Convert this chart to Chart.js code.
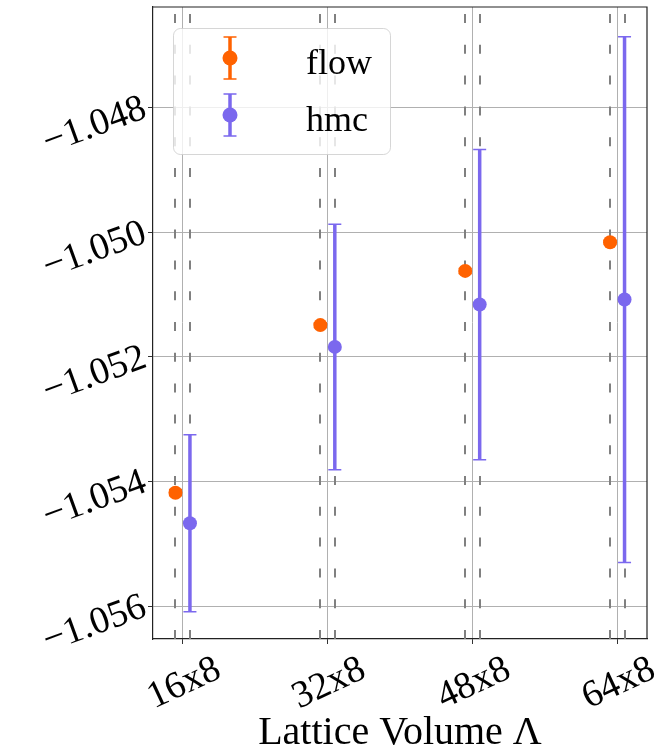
<!DOCTYPE html>
<html>
<head>
<meta charset="utf-8">
<script src="https://cdn.jsdelivr.net/npm/chart.js@4.4.1/dist/chart.umd.min.js"></script>
<style>
  html, body { margin: 0; padding: 0; background: #fff; }
  #wrap { width: 664px; height: 748px; }
</style>
</head>
<body>
<div id="wrap"><canvas id="chart" width="664" height="748"></canvas></div>
<script>
const volumes = ["16x8", "32x8", "48x8", "64x8"];
const flowMean = [-1.05418, -1.05149, -1.05062, -1.05016];
const flowErr = [0.00005, 0.00004, 0.00004, 0.00003];
const hmcMean = [-1.05467, -1.05184, -1.05116, -1.05108];
const hmcErr = [0.00142, 0.00197, 0.00249, 0.00422];
const yTicks = [-1.056, -1.054, -1.052, -1.050, -1.048];
const seriesNames = ["flow", "hmc"];
const seriesColors = ["#ff6200", "#7b68ee"];
const shift = 0.05; // flow drawn a bit left of the tick, hmc a bit right

const serif = "'Liberation Serif', 'DejaVu Serif', serif";

function points(means, dx) {
	return means.map((y, i) => ({ x: i + dx, y: y }));
}

// dashed guide lines and error bars, under the markers
const errorBars = {
	id: "errorBars",
	beforeDatasetsDraw(chart) {
		const ctx = chart.ctx;
		const area = chart.chartArea;
		const xs = chart.scales.x;
		const ys = chart.scales.y;
		ctx.save();
		ctx.beginPath();
		ctx.rect(area.left, area.top, area.right - area.left, area.bottom - area.top);
		ctx.clip();
		chart.data.datasets.forEach((ds) => {
			ds.data.forEach((p) => {
				const px = Math.round(xs.getPixelForValue(p.x));
				ctx.strokeStyle = "#808080";
				ctx.lineWidth = 2;
				ctx.setLineDash([9, 21.8]);
				ctx.beginPath();
				ctx.moveTo(px, area.bottom);
				ctx.lineTo(px, area.top);
				ctx.stroke();
			});
		});
		ctx.setLineDash([]);
		chart.data.datasets.forEach((ds) => {
			ds.data.forEach((p, i) => {
				const px = xs.getPixelForValue(p.x);
				const top = ys.getPixelForValue(p.y + ds.err[i]);
				const bot = ys.getPixelForValue(p.y - ds.err[i]);
				ctx.strokeStyle = ds.backgroundColor;
				ctx.lineWidth = 3.5;
				ctx.beginPath();
				ctx.moveTo(px, top);
				ctx.lineTo(px, bot);
				ctx.stroke();
				ctx.lineWidth = 1.5;
				ctx.beginPath();
				ctx.moveTo(px - 6.5, top);
				ctx.lineTo(px + 6.5, top);
				ctx.moveTo(px - 6.5, bot);
				ctx.lineTo(px + 6.5, bot);
				ctx.stroke();
			});
		});
		ctx.restore();
	},
	afterDraw(chart) {
		const ctx = chart.ctx;
		const area = chart.chartArea;
		ctx.save();
		// top and right spines
		ctx.strokeStyle = "#222";
		ctx.lineWidth = 1.2;
		ctx.beginPath();
		ctx.moveTo(area.left, area.top);
		ctx.lineTo(area.right, area.top);
		ctx.lineTo(area.right, area.bottom);
		ctx.stroke();

		// legend box
		ctx.beginPath();
		ctx.roundRect(173.5, 28.5, 217, 126, 7);
		ctx.fillStyle = "rgba(255,255,255,0.8)";
		ctx.fill();
		ctx.strokeStyle = "rgba(204,204,204,0.8)";
		ctx.lineWidth = 1;
		ctx.stroke();

		seriesNames.forEach((name, k) => {
			const cx = 230;
			const cy = 58 + k * 57;
			ctx.strokeStyle = seriesColors[k];
			ctx.lineWidth = 3.5;
			ctx.beginPath();
			ctx.moveTo(cx, cy - 21);
			ctx.lineTo(cx, cy + 21);
			ctx.stroke();
			ctx.lineWidth = 1.5;
			ctx.beginPath();
			ctx.moveTo(cx - 6.5, cy - 21);
			ctx.lineTo(cx + 6.5, cy - 21);
			ctx.moveTo(cx - 6.5, cy + 21);
			ctx.lineTo(cx + 6.5, cy + 21);
			ctx.stroke();
			ctx.fillStyle = seriesColors[k];
			ctx.beginPath();
			ctx.arc(cx, cy, 7.5, 0, Math.PI * 2);
			ctx.fill();
			ctx.fillStyle = "#000";
			ctx.font = "36px " + serif;
			ctx.textBaseline = "alphabetic";
			ctx.textAlign = "left";
			ctx.fillText(name, 306, cy + 16);
		});
		ctx.restore();
	},
};

const chart = new Chart(document.getElementById("chart").getContext("2d"), {
	type: "scatter",
	data: {
		datasets: [
			{
				label: seriesNames[0],
				data: points(flowMean, -shift),
				err: flowErr,
				backgroundColor: seriesColors[0],
				pointRadius: 7,
				pointBorderWidth: 0,
			},
			{
				label: seriesNames[1],
				data: points(hmcMean, shift),
				err: hmcErr,
				backgroundColor: seriesColors[1],
				pointRadius: 7,
				pointBorderWidth: 0,
			},
		],
	},
	options: {
		responsive: false,
		animation: false,
		layout: { padding: { top: 7, right: 17, left: 0, bottom: 0 } },
		plugins: { legend: { display: false }, tooltip: { enabled: false } },
		scales: {
			x: {
				type: "linear",
				min: -0.205,
				max: 3.205,
				afterBuildTicks: (s) => {
					s.ticks = volumes.map((v, i) => ({ value: i }));
				},
				afterFit: (s) => {
					s.height = 109;
					s.paddingLeft = 0;
					s.paddingRight = 0;
				},
				ticks: {
					callback: (v) => volumes[v],
					font: { family: serif, size: 38 },
					color: "#000",
					minRotation: 25,
					maxRotation: 25,
					labelOffset: 36,
					padding: 3,
					autoSkip: false,
				},
				grid: { color: "#b0b0b0", lineWidth: 1, tickLength: 5, tickColor: "#333" },
				border: { color: "#222", width: 1.2 },
				title: {
					display: true,
					text: "Lattice Volume Λ",
					font: { family: serif, size: 40, lineHeight: 0.75 },
					color: "#000",
					padding: 0,
				},
			},
			y: {
				min: -1.056528,
				max: -1.046384,
				afterBuildTicks: (s) => {
					s.ticks = yTicks.map((v) => ({ value: v }));
				},
				afterFit: (s) => {
					s.width = 153;
					s.paddingTop = 0;
					s.paddingBottom = 0;
				},
				ticks: {
					callback: (v) => "\u2212" + Math.abs(v).toFixed(3),
					font: { family: serif, size: 38 },
					color: "#000",
					minRotation: 20,
					maxRotation: 20,
					padding: 3,
				},
				grid: { color: "#b0b0b0", lineWidth: 1, tickLength: 5, tickColor: "#333" },
				border: { color: "#222", width: 1.2 },
			},
		},
	},
	plugins: [errorBars],
});
</script>
</body>
</html>
